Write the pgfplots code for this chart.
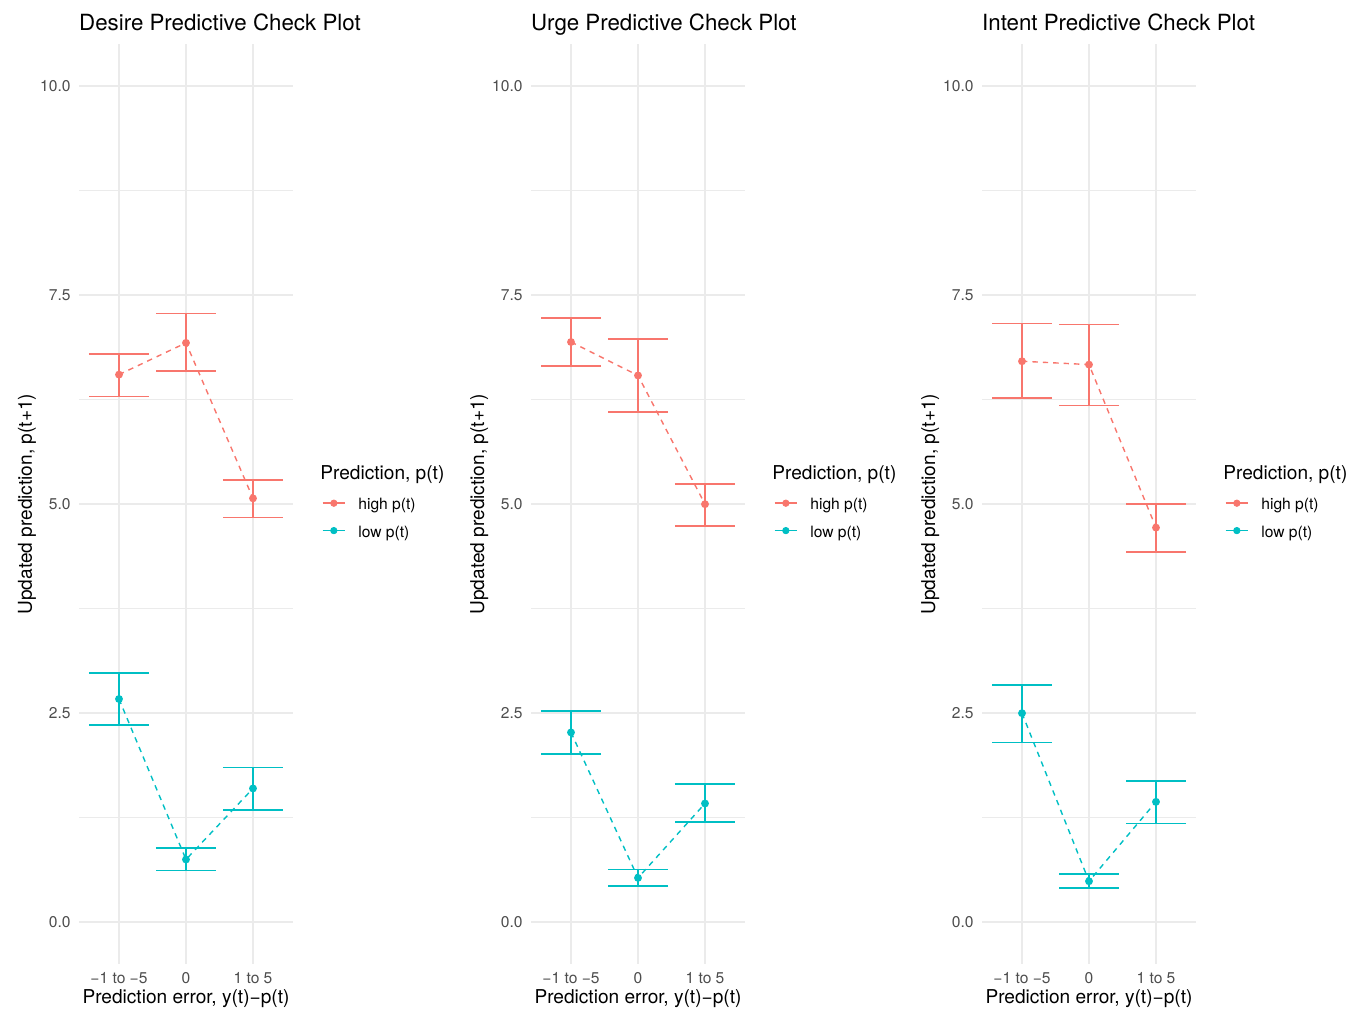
\documentclass[border=0pt]{standalone}
\usepackage{pgfplots}
\usepackage{pgfplotstable}
\pgfplotsset{compat=1.18}
\usepackage{fontspec}
\setmainfont{TeX Gyre Heros}
\definecolor{hicol}{HTML}{F8766D}
\definecolor{locol}{HTML}{00BFC4}
\definecolor{gridcol}{HTML}{EBEBEB}
\definecolor{tickcol}{HTML}{4D4D4D}
\newcommand\fs[1]{\fontsize{#1}{#1}\selectfont}

% x: 1 = "-1 to -5", 2 = "0", 3 = "1 to 5"
\pgfplotstableread{
x hy hlo hhi ly llo lhi
1 6.55 6.29 6.80 2.67 2.36 2.98
2 6.93 6.59 7.28 0.75 0.62 0.885
3 5.07 4.84 5.29 1.60 1.34 1.85
}\desire
\pgfplotstableread{
x hy hlo hhi ly llo lhi
1 6.94 6.65 7.23 2.27 2.01 2.53
2 6.54 6.10 6.98 0.53 0.43 0.63
3 5.00 4.74 5.24 1.42 1.20 1.65
}\urge
\pgfplotstableread{
x hy hlo hhi ly llo lhi
1 6.71 6.27 7.16 2.50 2.15 2.84
2 6.67 6.18 7.15 0.49 0.41 0.58
3 4.72 4.43 5.00 1.44 1.18 1.69
}\intent

\pgfplotsset{
  panel/.style={
    scale only axis, width=107.2pt, height=459.8pt,
    xmin=0.4, xmax=3.6, ymin=-0.5, ymax=10.5,
    clip=false,
    axis line style={draw=none},
    major tick length=0pt, minor tick length=0pt,
    xtick={1,2,3}, xticklabels={−1 to −5,0,1 to 5},
    ytick={0,2.5,5,7.5,10}, minor ytick={1.25,3.75,6.25,8.75},
    xmajorgrids, ymajorgrids, yminorgrids,
    major grid style={gridcol, line width=1pt},
    minor grid style={gridcol, line width=0.5pt},
    /pgf/number format/assume math mode=true,
    yticklabel style={/pgf/number format/fixed, /pgf/number format/fixed zerofill, /pgf/number format/precision=1,
      font=\fs{7.8}, text=tickcol, anchor=east, inner sep=0pt, xshift=-3.9pt},
    xticklabel style={font=\fs{7.8}, text=tickcol, anchor=base, inner sep=0pt, yshift=-9.6pt},
    legend cell align=left,
    legend image code/.code={
      \draw[line width=0.85pt,##1] (0pt,1.7pt) -- (11.3pt,1.7pt);
      \fill[##1] (5.65pt,1.7pt) circle (1.6pt);
    },
    legend style={at={(rel axis cs:1.1329,0.5050)}, anchor=north west,
      draw=none, fill=none, inner sep=0pt, outer sep=0pt, row sep=6.7pt, column sep=6.2pt,
      font=\fs{7.8},
      nodes={inner sep=0pt, text height=5.2pt, text depth=1.8pt}},
  },
  grp/.style={#1, line width=0.7pt, dash pattern=on 2.7pt off 2.5pt,
    mark=*, mark size=1.6pt, mark options={solid, fill=#1, draw=#1},
    forget plot,
    error bars/.cd, y dir=both, y explicit,
    error bar style={solid, line width=0.85pt, #1},
    error mark options={solid, rotate=90, line width=0.85pt, mark size=15pt, #1}},
}

\newcommand\panel[3]{%
  \begin{axis}[panel, at={(#1,22.5pt)}, anchor=south west]
    \addplot[grp=hicol] table[x=x, y=hy,
      y error plus expr=\thisrow{hhi}-\thisrow{hy},
      y error minus expr=\thisrow{hy}-\thisrow{hlo}] {#2};
    \addplot[grp=locol] table[x=x, y=ly,
      y error plus expr=\thisrow{lhi}-\thisrow{ly},
      y error minus expr=\thisrow{ly}-\thisrow{llo}] {#2};
    \addlegendimage{hicol}\addlegendentry{high p(t)}
    \addlegendimage{locol}\addlegendentry{low p(t)}
    \node[anchor=base west, font=\fs{11.15}, inner sep=0pt] at ([yshift=6.85pt]rel axis cs:0,1) {#3 Predictive Check Plot};
    \node[anchor=base, font=\fs{9.55}, inner sep=0pt] at ([yshift=-19.6pt]rel axis cs:0.5,0) {Prediction error, y(t)−p(t)};
    \node[xshift=-23.4pt, rotate=90, anchor=base, font=\fs{9.55}, inner sep=0pt] at (rel axis cs:0,0.5) {Updated prediction, p(t+1)};
    \node[anchor=west, font=\fs{9.55}, inner sep=0pt] at ([xshift=13.4pt]rel axis cs:1,0.5326) {Prediction, p(t)};
  \end{axis}%
}

\begin{document}
\begin{tikzpicture}
  \useasboundingbox (0,0) rectangle (678.5pt,504.5pt);
  \panel{39.4pt}{\desire}{Desire}
  \panel{265.4pt}{\urge}{Urge}
  \panel{490.9pt}{\intent}{Intent}
\end{tikzpicture}
\end{document}
